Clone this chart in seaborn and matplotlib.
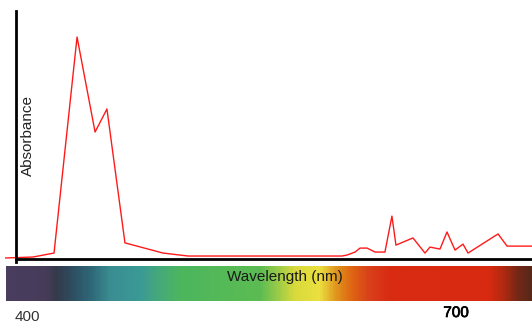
import numpy as np
import pandas as pd
import matplotlib
matplotlib.use("Agg")
import matplotlib.pyplot as plt
import matplotlib.transforms as mtransforms
import matplotlib.patheffects as pe
from matplotlib.colors import LinearSegmentedColormap
import seaborn as sns

# absorbance spectrum (wavelength in nm, absorbance in arbitrary units)
wavelength = [384.6, 404.2, 418.9, 435.0, 447.6, 455.9, 468.5, 495.1, 512.6,
              620.3, 623.8, 629.4, 632.9, 637.8, 643.4, 650.3, 655.2, 658.0,
              669.9, 678.3, 681.8, 688.8, 693.7, 699.3, 704.9, 708.4, 729.4,
              735.7, 742.7, 753.1]
absorbance = [0.004, 0.008, 0.024, 0.895, 0.512, 0.605, 0.065, 0.024, 0.012,
              0.012, 0.016, 0.028, 0.044, 0.044, 0.028, 0.028, 0.173, 0.056,
              0.085, 0.024, 0.048, 0.040, 0.109, 0.036, 0.060, 0.024, 0.101,
              0.052, 0.052, 0.052]

# colour stops of the visible spectrum strip
spectrum_nm = [385.3, 412.6, 419.6, 430.1, 444.1, 458.0, 479.0, 493.0, 507.0,
               562.9, 573.4, 587.4, 604.9, 615.4, 625.9, 639.9, 653.8, 723.8,
               734.3, 744.8, 753.1]
spectrum_colors = ['#4a3d5e', '#463c5a', '#353a4a', '#2e4c60', '#2e6878',
                   '#3a8e92', '#3a9a96', '#46aa78', '#4cb65e', '#5cbc52',
                   '#90c84a', '#d8da3c', '#ece040', '#e09a20', '#e06a14',
                   '#d8401a', '#d82c12', '#d82a10', '#b02a12', '#702818',
                   '#5a2818']

tick_values = [400, 700]
x_label = 'Wavelength (nm)'
y_label = 'Absorbance'

sns.set_style('white')
plt.rcParams['font.family'] = ['Liberation Sans', 'DejaVu Sans']

W, H = 532, 324
fig = plt.figure(figsize=(W / 100, H / 100), dpi=100)
fig.patch.set_facecolor('white')


def px_to_nm(x):
    return 400 + (x - 27) * 300 / 429


# main plot
ax = fig.add_axes([5 / W, (H - 259) / H, 527 / W, 248 / H])
df = pd.DataFrame({'wl': wavelength, 'abs': absorbance})
sns.lineplot(data=df, x='wl', y='abs', ax=ax, color='#ff1a1a', linewidth=1.0,
             sort=False, estimator=None)
ax.set_xlim(px_to_nm(5), px_to_nm(532))
ax.set_ylim(0, 1)
ax.set_xlabel('')
ax.set_ylabel('')
ax.set_xticks([])
ax.set_yticks([])
ax.patch.set_alpha(0)
for side in ['top', 'right']:
    ax.spines[side].set_visible(False)
left_nm = px_to_nm(16)
ax.spines['left'].set_position(('data', left_nm))
ax.spines['left'].set_bounds(-0.012, 1)
ax.spines['bottom'].set_bounds(left_nm, px_to_nm(532))
for side in ['left', 'bottom']:
    ax.spines[side].set_color('black')
    ax.spines[side].set_linewidth(2.0)

fig.text(28 / W, 1 - 136 / H, y_label, rotation=90, ha='center', va='center',
         fontsize=11, color='#222222')

# spectrum strip
bar = fig.add_axes([6 / W, (H - 301) / H, 526 / W, 35 / H])
lo, hi = px_to_nm(6), px_to_nm(532)
stops = [(v - lo) / (hi - lo) for v in spectrum_nm]
stops[0], stops[-1] = 0.0, 1.0
cmap = LinearSegmentedColormap.from_list('spectrum', list(zip(stops, spectrum_colors)))
grad = np.linspace(0, 1, 600).reshape(1, -1)
bar.imshow(grad, aspect='auto', cmap=cmap, extent=[lo, hi, 0, 1])
bar.set_xlim(lo, hi)
bar.set_ylim(0, 1)
bar.set_xticks([])
bar.set_yticks([])
for s in bar.spines.values():
    s.set_visible(False)
bar.text(px_to_nm(285), 0.69, x_label, ha='center', va='center',
         fontsize=11, color='#1a1a1a')

trans = mtransforms.blended_transform_factory(bar.transData, fig.transFigure)
bar.text(tick_values[0], 1 - 317 / H, str(tick_values[0]), transform=trans,
         ha='center', va='center', fontsize=11, color='#333333')
bar.text(tick_values[1], 1 - 313 / H, str(tick_values[1]), transform=trans,
         ha='center', va='center', fontsize=11, color='black',
         path_effects=[pe.withStroke(linewidth=0.5, foreground='black')])

fig.savefig('out.png', dpi=100, facecolor='white')
